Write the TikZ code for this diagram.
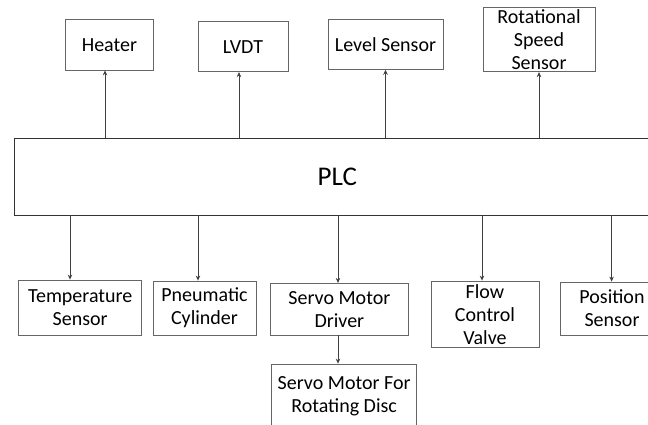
\documentclass[tikz,border=0pt]{standalone}
\usepackage{fontspec}
\setmainfont{Carlito}
\usetikzlibrary{arrows.meta}
\tikzset{
  blk/.style={draw=black!60, line width=0.8pt, text=black, align=center, inner sep=0pt,
    font=\fontsize{20}{23}\selectfont},
  conn/.style={draw=black!75, line width=0.9pt, -{Stealth[length=5pt,width=4.5pt]}},
}
\begin{document}
\begin{tikzpicture}[x=1pt,y=-1pt]
\useasboundingbox (0,0) rectangle (648,425);
\clip (0,0) rectangle (648,425);
% top row
\node[blk, minimum width=87.8pt, minimum height=50.5pt] (heater) at (109.4,44.75) {Heater};
\node[blk, minimum width=90pt, minimum height=50pt] (lvdt) at (243,46.7) {LVDT};
\node[blk, minimum width=115pt, minimum height=50.3pt] (level) at (385.5,44.2) {Level Sensor};
\node[blk, minimum width=112pt, minimum height=64.4pt] (rot) at (539,39.5) {Rotational\\Speed\\Sensor};
% PLC
\node[blk, draw=black!80, minimum width=645.5pt, minimum height=76.7pt,
  font=\fontsize{27}{30}\selectfont] (plc) at (337.25,176.65) {PLC};
% bottom row
\node[blk, minimum width=123.1pt, minimum height=55pt] (temp) at (80.15,307.5) {Temperature\\Sensor};
\node[blk, minimum width=103pt, minimum height=54pt] (pneu) at (204.5,308) {Pneumatic\\Cylinder};
\node[blk, minimum width=137.3pt, minimum height=51.7pt] (driver) at (339.35,309.15) {Servo Motor\\Driver};
\node[blk, minimum width=108pt, minimum height=66.7pt] (flow) at (485,314.35) {Flow\\Control\\Valve};
\node[blk, minimum width=104pt, minimum height=53pt] (pos) at (612,308.5) {Position\\Sensor};
\node[blk, minimum width=144.8pt, minimum height=64pt] (servofor) at (344.1,396) {Servo Motor For\\Rotating Disc};
% connector x positions
\coordinate (xa) at (105,0);
\coordinate (xb) at (239,0);
\coordinate (xc) at (385.5,0);
\coordinate (xd) at (539,0);
\coordinate (xe) at (70,0);
\coordinate (xf) at (198,0);
\coordinate (xg) at (338,0);
\coordinate (xh) at (482,0);
\coordinate (xi) at (611.6,0);
% connectors
\draw[conn] (plc.north -| xa) -- (heater.south -| xa);
\draw[conn] (plc.north -| xb) -- (lvdt.south -| xb);
\draw[conn] (plc.north -| xc) -- (level.south -| xc);
\draw[conn] (plc.north -| xd) -- (rot.south -| xd);
\draw[conn] (plc.south -| xe) -- (temp.north -| xe);
\draw[conn] (plc.south -| xf) -- (pneu.north -| xf);
\draw[conn] (plc.south -| xg) -- (driver.north -| xg);
\draw[conn] (plc.south -| xh) -- (flow.north -| xh);
\draw[conn] (plc.south -| xi) -- (pos.north -| xi);
\draw[conn] (driver.south -| xg) -- (servofor.north -| xg);
\end{tikzpicture}
\end{document}
